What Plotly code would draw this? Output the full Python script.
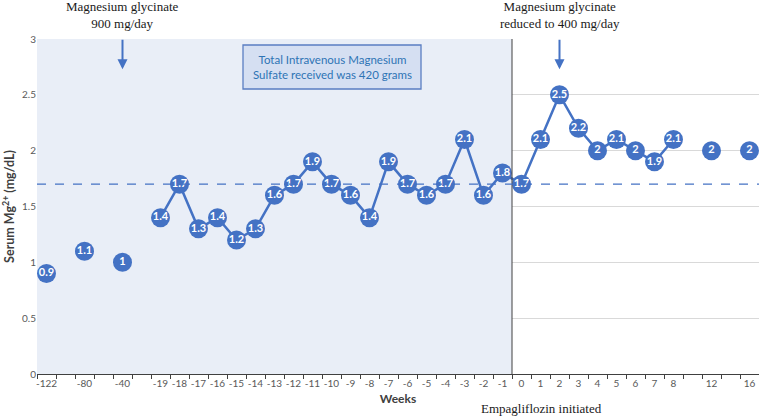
import plotly.graph_objects as go

weeks = ["-122", "-80", "-40", "-19", "-18", "-17", "-16", "-15", "-14", "-13", "-12",
         "-11", "-10", "-9", "-8", "-7", "-6", "-5", "-4", "-3", "-2", "-1",
         "0", "1", "2", "3", "4", "5", "6", "7", "8", "12", "16"]
mg = [0.9, 1.1, 1.0, 1.4, 1.7, 1.3, 1.4, 1.2, 1.3, 1.6, 1.7,
      1.9, 1.7, 1.6, 1.4, 1.9, 1.7, 1.6, 1.7, 2.1, 1.6, 1.8,
      1.7, 2.1, 2.5, 2.2, 2.0, 2.1, 2.0, 1.9, 2.1, 2.0, 2.0]
labels = ["0.9", "1.1", "1", "1.4", "1.7", "1.3", "1.4", "1.2", "1.3", "1.6", "1.7",
          "1.9", "1.7", "1.6", "1.4", "1.9", "1.7", "1.6", "1.7", "2.1", "1.6", "1.8",
          "1.7", "2.1", "2.5", "2.2", "2", "2.1", "2", "1.9", "2.1", "2", "2"]
reference_level = 1.7

# Category order: a blank slot sits between non-consecutive weeks
cat_order = []
line_x, line_y = [], []
blank = 0
for i, w in enumerate(weeks):
    if i > 0 and int(w) - int(weeks[i - 1]) > 1:
        blank += 1
        name = " " * blank
        cat_order.append(name)
        line_x.append(name)
        line_y.append(None)
    cat_order.append(w)
    line_x.append(w)
    line_y.append(mg[i])

blue = "#4472C4"
fig = go.Figure()
fig.add_trace(go.Scatter(x=line_x, y=line_y, mode="lines", connectgaps=False,
                         line=dict(color=blue, width=2.5), hoverinfo="skip",
                         showlegend=False))
fig.add_trace(go.Scatter(x=weeks, y=mg, mode="markers+text", text=labels,
                         textposition="middle center",
                         textfont=dict(family="Lato", size=11, color="white", weight="bold"),
                         marker=dict(size=19, color=blue, line=dict(width=0)),
                         showlegend=False))

n = len(cat_order)
split = cat_order.index("0") - 0.5
i40 = cat_order.index("-40")
i2 = cat_order.index("2")

fig.add_shape(type="rect", xref="x", yref="y", x0=-0.5, x1=split, y0=0, y1=3,
              fillcolor="#E9EEF7", line=dict(width=0), layer="between")
fig.add_shape(type="line", xref="x", yref="y", x0=split, x1=split, y0=0, y1=3,
              line=dict(color="#404040", width=1))
fig.add_shape(type="line", xref="paper", yref="y", x0=0, x1=1,
              y0=reference_level, y1=reference_level,
              line=dict(color=blue, width=1.3, dash="dash"))

# text box
fig.add_shape(type="rect", xref="paper", yref="paper",
              x0=(243 - 37) / 722, x1=(421 - 37) / 722,
              y0=(374 - 89) / 335, y1=(374 - 45) / 335,
              fillcolor="#D5DFF2", line=dict(color="#5A7EC2", width=1.3))
fig.add_annotation(xref="paper", yref="paper", x=(332 - 37) / 722, y=(374 - 67) / 335,
                   xanchor="center", yanchor="middle",
                   text="Total Intravenous Magnesium<br>Sulfate received was 420 grams",
                   showarrow=False, font=dict(family="Lato", size=11.5, color="#2E74B5"))

serif = dict(family="Liberation Serif", size=13, color="#1a1a1a")
fig.add_annotation(xref="x", yref="paper", x=i40, y=1.0, yshift=6, yanchor="bottom",
                   text="Magnesium glycinate<br>900 mg/day", showarrow=False, font=serif)
fig.add_annotation(xref="x", yref="paper", x=i2, y=1.0, yshift=6, yanchor="bottom",
                   text="Magnesium glycinate<br>reduced to 400 mg/day", showarrow=False, font=serif)
for idx in [i40, i2]:
    fig.add_annotation(xref="x", yref="y", x=idx, y=2.73, ax=0, ay=-31, text="",
                       showarrow=True, arrowhead=2, arrowsize=1, arrowwidth=2,
                       arrowcolor=blue)
fig.add_annotation(xref="x", yref="paper", x=i2, xshift=-18, y=0, yshift=-34, yanchor="middle",
                   text="Empagliflozin initiated", showarrow=False, font=serif)

fig.update_layout(
    width=759, height=416, margin=dict(l=37, r=0, t=39, b=42),
    plot_bgcolor="white", paper_bgcolor="white",
    xaxis=dict(type="category", categoryorder="array", categoryarray=cat_order,
               range=[-0.5, n - 0.5], showgrid=False, tickson="boundaries",
               ticks="outside", ticklen=4, tickcolor="#404040", tickangle=0,
               showline=True, linecolor="#404040", linewidth=1.2,
               tickfont=dict(family="Lato", size=10, color="#595959"),
               title=dict(text="<b>Weeks</b>", standoff=6,
                          font=dict(family="Lato", size=12, color="#404040"))),
    yaxis=dict(range=[0, 3], dtick=0.5, showgrid=True, gridcolor="#D9D9D9", gridwidth=1,
               zeroline=False, showline=False, ticks="",
               tickfont=dict(family="Lato", size=10, color="#595959"),
               title=dict(text="<b>Serum Mg<sup>2+</sup> (mg/dL)</b>", standoff=4,
                          font=dict(family="Lato", size=12.5, color="#404040"))),
)

fig.write_html("out.html", config={"displayModeBar": False},
               post_script="document.body.style.margin='0';")
